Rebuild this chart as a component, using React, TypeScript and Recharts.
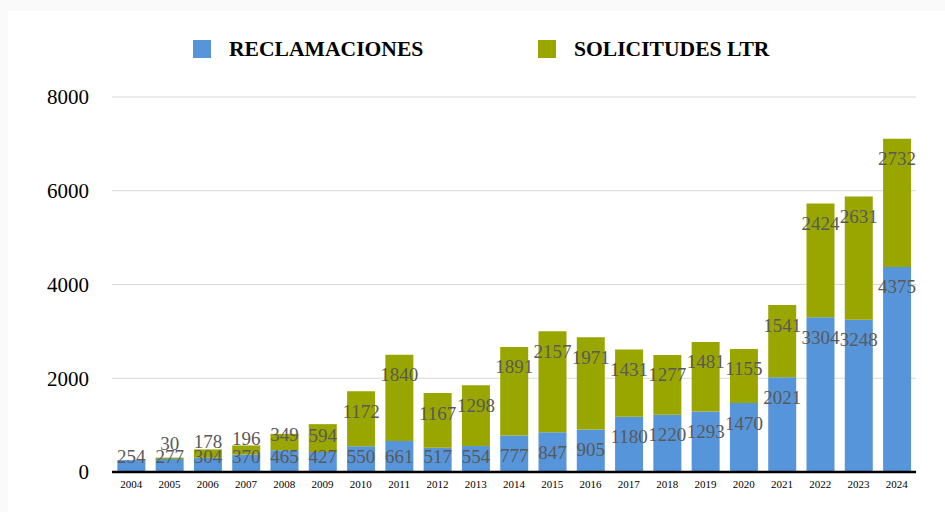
import * as React from 'react';
import { BarChart, Bar, XAxis, YAxis, CartesianGrid, LabelList } from 'recharts';

const YEARS = [
  '2004', '2005', '2006', '2007', '2008', '2009', '2010', '2011', '2012', '2013', '2014',
  '2015', '2016', '2017', '2018', '2019', '2020', '2021', '2022', '2023', '2024',
];
const RECLAMACIONES = [
  254, 277, 304, 370, 465, 427, 550, 661, 517, 554, 777,
  847, 905, 1180, 1220, 1293, 1470, 2021, 3304, 3248, 4375,
];
const SOLICITUDES = [
  0, 30, 178, 196, 349, 594, 1172, 1840, 1167, 1298, 1891,
  2157, 1971, 1431, 1277, 1481, 1155, 1541, 2424, 2631, 2732,
];
const Y_TICKS = [0, 2000, 4000, 6000, 8000];

const BLUE = '#5795da';
const OLIVE = '#99a600';
const FONT = '"Liberation Serif", "Times New Roman", serif';

const chartData = YEARS.map((year, i) => ({
  year,
  rec: RECLAMACIONES[i],
  sol: SOLICITUDES[i],
}));

// label sits near the top of its segment, pushed up when the segment is short
function renderLabel(props: any) {
  const { x, y, width, height, value } = props;
  if (!value) return null;
  const cx = Number(x) + Number(width) / 2;
  const top = Number(y);
  const cy = Math.min(top + 20, top + Number(height) - 16);
  return (
    <text
      x={cx}
      y={cy}
      textAnchor="middle"
      dominantBaseline="central"
      fill="#595959"
      fontSize={19}
      fontFamily={FONT}
    >
      {value}
    </text>
  );
}

function LegendItem({ color, label, left }: { color: string; label: string; left: number }) {
  return (
    <div style={{ position: 'absolute', left, top: 40, display: 'flex', alignItems: 'center' }}>
      <span style={{ width: 18, height: 18, background: color, display: 'inline-block' }} />
      <span
        style={{
          marginLeft: 18,
          fontFamily: FONT,
          fontWeight: 'bold',
          fontSize: 21.6,
          color: '#000',
          lineHeight: '18px',
        }}
      >
        {label}
      </span>
    </div>
  );
}

export default function App() {
  return (
    <div
      style={{
        position: 'absolute',
        left: 0,
        top: 0,
        width: 945,
        height: 512,
        background: '#fafafa',
        overflow: 'hidden',
      }}
    >
      <div
        style={{
          position: 'absolute',
          left: 8,
          top: 11,
          width: 945,
          height: 512,
          background: '#fff',
        }}
      />
      <div style={{ position: 'absolute', left: 0, top: 0 }}>
        <BarChart
          width={945}
          height={512}
          data={chartData}
          margin={{ top: 97, right: 29, bottom: 10, left: 0 }}
          barCategoryGap="14%"
        >
          <CartesianGrid vertical={false} stroke="#d9d9d9" strokeWidth={1} />
          <XAxis
            dataKey="year"
            height={30}
            tickLine={false}
            axisLine={{ stroke: '#000', strokeWidth: 2.5 }}
            tick={{ fontSize: 11, fill: '#000', fontFamily: FONT }}
            interval={0}
          />
          <YAxis
            width={112}
            domain={[0, 8000]}
            ticks={Y_TICKS}
            axisLine={false}
            tickLine={false}
            tickMargin={17}
            tick={{ fontSize: 21, fill: '#000', fontFamily: FONT }}
          />
          <Bar dataKey="rec" stackId="a" fill={BLUE} isAnimationActive={false}>
            <LabelList dataKey="rec" content={renderLabel} />
          </Bar>
          <Bar dataKey="sol" stackId="a" fill={OLIVE} isAnimationActive={false}>
            <LabelList dataKey="sol" content={renderLabel} />
          </Bar>
        </BarChart>
      </div>
      <LegendItem color={BLUE} label="RECLAMACIONES" left={193} />
      <LegendItem color={OLIVE} label="SOLICITUDES LTR" left={538} />
    </div>
  );
}
